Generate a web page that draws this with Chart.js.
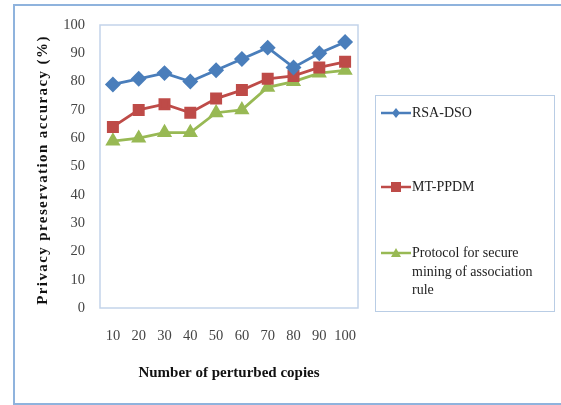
<!DOCTYPE html>
<html>
<head>
<meta charset="utf-8">
<script src="https://cdn.jsdelivr.net/npm/chart.js@4/dist/chart.umd.min.js"></script>
<style>
    html, body { margin: 0; padding: 0; background: #fff; }
    #wrap { position: relative; width: 561px; height: 405px; overflow: hidden; }
    #frame { position: absolute; left: 13px; top: 4px; width: 600px; height: 397px; border: 2px solid #8fb3dd; }
    #chart { position: absolute; left: 0; top: 0; }
    #legend {
        position: absolute; left: 375px; top: 95px; width: 180px; height: 217px;
        border: 1px solid #b9cde5; box-sizing: border-box;
        font-family: "Liberation Serif", serif; font-size: 14px; color: #222;
    }
    .item { position: absolute; left: 4px; width: 170px; line-height: 18.5px; }
    .item svg { position: absolute; left: 0; top: 3px; }
    .item span { display: block; margin-left: 32px; width: 132px; }
</style>
</head>
<body>
<div id="wrap">
    <div id="frame"></div>
    <canvas id="chart" width="561" height="405"></canvas>
    <div id="legend"></div>
</div>
<script>
// Data
const copies = ['10', '20', '30', '40', '50', '60', '70', '80', '90', '100'];
const rsaDso = [79, 81, 83, 80, 84, 88, 92, 85, 90, 94];
const mtPpdm = [64, 70, 72, 69, 74, 77, 81, 82, 85, 87];
const protocol = [59, 60, 62, 62, 69, 70, 78, 80, 83, 84];
const seriesNames = ['RSA-DSO', 'MT-PPDM', 'Protocol for secure mining of association rule'];
const yTicks = [0, 10, 20, 30, 40, 50, 60, 70, 80, 90, 100];
const yTitle = 'Privacy preservation accuracy (%)';

const colors = ['#4a7ebb', '#be4b48', '#98b954'];
const shapes = ['rectRot', 'rect', 'triangle'];
const radii = [6, 6.5, 6];

const tickFont = { family: 'Liberation Serif', size: 14.5 };
const titleFont = { family: 'Liberation Serif', size: 15, weight: 'bold' };

const datasets = [rsaDso, mtPpdm, protocol].map((values, i) => ({
    label: seriesNames[i],
    data: values,
    borderColor: colors[i],
    backgroundColor: colors[i],
    borderWidth: 2.8,
    pointStyle: shapes[i],
    pointRadius: radii[i],
    pointHoverRadius: radii[i],
    tension: 0
}));

// plot-area box and the spaced-out y title
const extras = {
    id: 'extras',
    beforeDatasetsDraw(chart) {
        const { ctx, chartArea: a } = chart;
        ctx.save();
        ctx.strokeStyle = '#c3d4ea';
        ctx.lineWidth = 1.5;
        ctx.strokeRect(a.left, a.top, a.right - a.left, a.bottom - a.top);
        ctx.restore();
    },
    afterDraw(chart) {
        const ctx = chart.ctx;
        ctx.save();
        ctx.translate(43, 170);
        ctx.rotate(-Math.PI / 2);
        ctx.font = 'bold 15px "Liberation Serif"';
        ctx.letterSpacing = '1.4px';
        ctx.fillStyle = '#111';
        ctx.textAlign = 'center';
        ctx.textBaseline = 'middle';
        ctx.fillText(yTitle, 0, 0);
        ctx.restore();
    }
};

new Chart(document.getElementById('chart'), {
    type: 'line',
    data: { labels: copies, datasets },
    options: {
        responsive: false,
        animation: false,
        layout: { padding: { left: 30, right: 203, top: 25, bottom: 12 } },
        plugins: { legend: { display: false }, tooltip: { enabled: false } },
        scales: {
            x: {
                offset: true,
                grid: { display: false, drawTicks: false },
                border: { display: false },
                ticks: { font: tickFont, color: '#444', padding: 19, maxRotation: 0 },
                title: { display: true, text: 'Number of perturbed copies', font: titleFont, color: '#111', padding: { top: 4, bottom: 11 } },
                afterFit: s => { s.height = 85; }
            },
            y: {
                min: 0,
                max: 100,
                afterBuildTicks: s => { s.ticks = yTicks.map(v => ({ value: v })); },
                grid: { display: false, drawTicks: false },
                border: { display: false },
                ticks: { font: tickFont, color: '#444', padding: 15 },
                afterFit: s => { s.width = 70; }
            }
        }
    },
    plugins: [extras]
});

// HTML legend
const legend = document.getElementById('legend');
const itemTops = [8, 82, 148];
seriesNames.forEach((name, i) => {
    const item = document.createElement('div');
    item.className = 'item';
    item.style.top = itemTops[i] + 'px';
    let marker;
    if (shapes[i] === 'rectRot') marker = '<polygon points="16,1 20,6 16,11 12,6" fill="' + colors[i] + '"/>';
    else if (shapes[i] === 'rect') marker = '<rect x="11" y="1" width="10" height="10" fill="' + colors[i] + '"/>';
    else marker = '<polygon points="16,1 21,10 11,10" fill="' + colors[i] + '"/>';
    item.innerHTML = '<svg width="32" height="12"><line x1="1" y1="6" x2="31" y2="6" stroke="' + colors[i] + '" stroke-width="2.5"/>' + marker + '</svg><span>' + name + '</span>';
    legend.appendChild(item);
});
</script>
</body>
</html>
